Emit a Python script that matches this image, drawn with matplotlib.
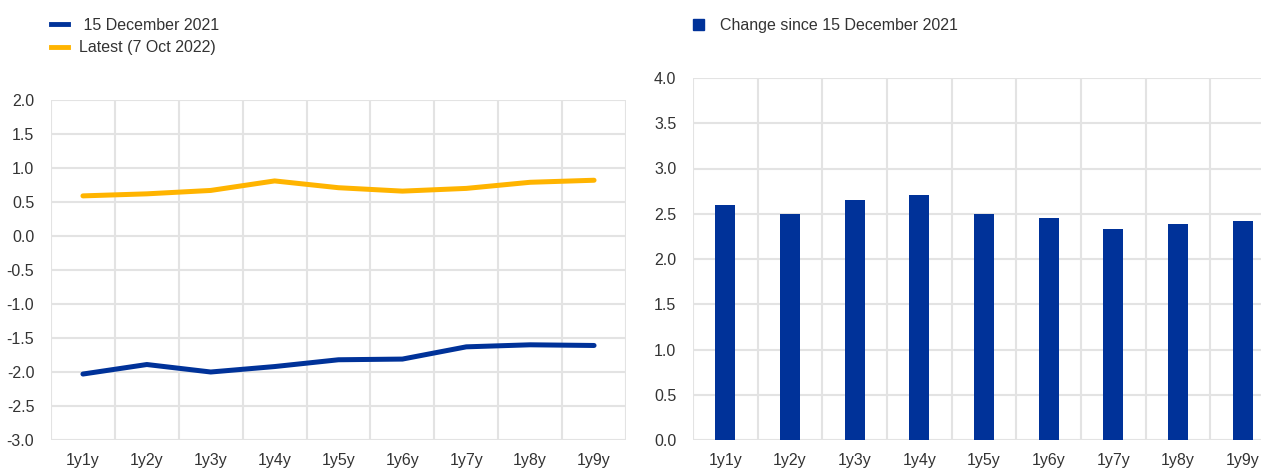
import matplotlib
matplotlib.use('Agg')
import matplotlib.pyplot as plt
from matplotlib.lines import Line2D
from matplotlib.patches import Patch
import numpy as np

plt.rcParams['font.family'] = ['Liberation Sans', 'DejaVu Sans']

tenors = ['1y1y', '1y2y', '1y3y', '1y4y', '1y5y', '1y6y', '1y7y', '1y8y', '1y9y']
dec_2021 = [-2.03, -1.89, -2.00, -1.92, -1.82, -1.81, -1.63, -1.60, -1.61]
latest = [0.59, 0.62, 0.67, 0.81, 0.71, 0.66, 0.70, 0.79, 0.82]
change = [2.60, 2.50, 2.65, 2.71, 2.50, 2.45, 2.33, 2.39, 2.42]

BLUE = '#003299'
YELLOW = '#FFB400'
GRID = '#e3e3e3'
TXT = '#333333'
FS = 11.5

W, H = 1261, 468
fig = plt.figure(figsize=(W / 100, H / 100), dpi=100)
ax1 = fig.add_axes([51 / W, 28 / H, 575 / W, 340 / H])
ax2 = fig.add_axes([693 / W, 28 / H, 582 / W, 362 / H])

x = np.arange(len(tenors))


def style(ax, yticks):
    ax.set_xlim(-0.5, len(tenors) - 0.5)
    ax.set_ylim(yticks[0], yticks[-1])
    ax.set_yticks(yticks)
    ax.set_yticklabels(['{:.1f}'.format(v) for v in yticks])
    ax.set_xticks(x)
    ax.set_xticklabels(tenors)
    ax.set_xticks(np.arange(-0.5, len(tenors)), minor=True)
    ax.grid(True, which='minor', axis='x', color=GRID, lw=1.5)
    ax.grid(True, which='major', axis='y', color=GRID, lw=1.5)
    ax.set_axisbelow(True)
    for s in ax.spines.values():
        s.set_visible(False)
    ax.tick_params(which='both', length=0)
    ax.tick_params(axis='y', pad=12, labelsize=FS, labelcolor=TXT)
    ax.tick_params(axis='x', pad=9, labelsize=FS, labelcolor=TXT)


style(ax1, np.arange(-3.0, 2.01, 0.5))
ax1.plot(x, dec_2021, color=BLUE, lw=3.6, solid_capstyle='round', solid_joinstyle='round', clip_on=False)
ax1.plot(x, latest, color=YELLOW, lw=3.6, solid_capstyle='round', solid_joinstyle='round', clip_on=False)

style(ax2, np.arange(0.0, 4.01, 0.5))
ax2.bar(x, change, width=0.31, color=BLUE)

h1 = [Line2D([], [], color=BLUE, lw=3.5), Line2D([], [], color=YELLOW, lw=3.5)]
fig.legend(h1, [' 15 December 2021', 'Latest (7 Oct 2022)'], loc='upper left',
           bbox_to_anchor=(51 / W, 1 - 18 / H), frameon=False, fontsize=FS,
           handlelength=1.05, handletextpad=0.7, labelspacing=0.45,
           borderaxespad=0, borderpad=0, labelcolor=TXT)

h2 = [Patch(facecolor=BLUE, edgecolor=BLUE)]
fig.legend(h2, ['Change since 15 December 2021'], loc='upper left',
           bbox_to_anchor=(693 / W, 1 - 18 / H), frameon=False, fontsize=FS,
           handlelength=0.7, handleheight=0.7, handletextpad=1.0,
           borderaxespad=0, borderpad=0, labelcolor=TXT)

fig.savefig('out.png', dpi=100)
